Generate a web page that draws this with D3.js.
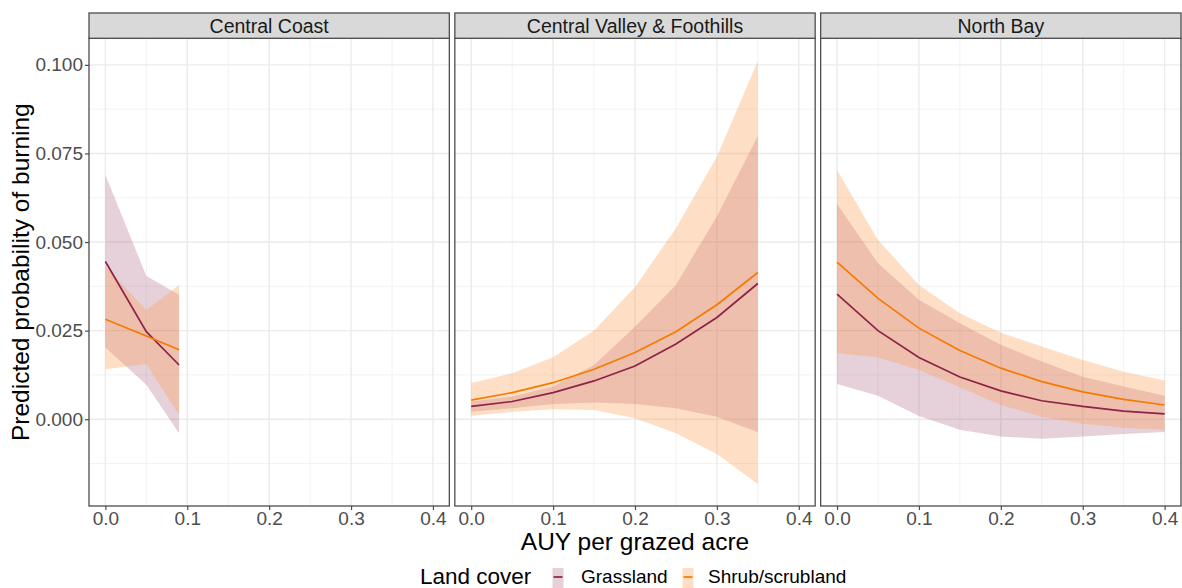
<!DOCTYPE html>
<html>
<head>
<meta charset="utf-8">
<script src="https://cdn.jsdelivr.net/npm/d3@7"></script>
<style>
  html, body { margin: 0; padding: 0; background: #fff; }
  svg { display: block; font-family: "Liberation Sans", Arial, sans-serif; }
</style>
</head>
<body>
<svg id="chart" width="1182" height="588"></svg>
<script>
// ---------------- data ----------------
const regions = ["Central Coast", "Central Valley & Foothills", "North Bay"];
const landCovers = ["Grassland", "Shrub/scrubland"];
const xTicks = [0, 0.1, 0.2, 0.3, 0.4];
const xTickLabels = ["0.0", "0.1", "0.2", "0.3", "0.4"];
const yTicks = [0, 0.025, 0.05, 0.075, 0.1];
const yTickLabels = ["0.000", "0.025", "0.050", "0.075", "0.100"];

// Central Coast
const ccX = [0, 0.05, 0.09];
const ccGrassFit  = [0.0445, 0.0247, 0.0153];
const ccGrassLow  = [0.0202, 0.0097, -0.0040];
const ccGrassHigh = [0.0689, 0.0404, 0.0351];
const ccShrubFit  = [0.0282, 0.0235, 0.0196];
const ccShrubLow  = [0.0141, 0.0156, 0.0012];
const ccShrubHigh = [0.0431, 0.0308, 0.0379];

// Central Valley & Foothills
const cvX = [0, 0.05, 0.1, 0.15, 0.2, 0.25, 0.3, 0.35];
const cvGrassFit  = [0.0036, 0.0050, 0.0075, 0.0108, 0.0150, 0.0212, 0.0287, 0.0383];
const cvGrassLow  = [0.0021, 0.0031, 0.0043, 0.0047, 0.0043, 0.0031, 0.0007, -0.0037];
const cvGrassHigh = [0.0050, 0.0064, 0.0092, 0.0153, 0.0261, 0.0379, 0.0572, 0.0799];
const cvShrubFit  = [0.0054, 0.0075, 0.0103, 0.0141, 0.0188, 0.0247, 0.0323, 0.0414];
const cvShrubLow  = [0.0010, 0.0021, 0.0028, 0.0026, 0.0003, -0.0040, -0.0098, -0.0183];
const cvShrubHigh = [0.0102, 0.0130, 0.0175, 0.0250, 0.0373, 0.0539, 0.0741, 0.1011];

// North Bay
const nbX = [0, 0.05, 0.1, 0.15, 0.2, 0.25, 0.3, 0.35, 0.4];
const nbGrassFit  = [0.0353, 0.0250, 0.0174, 0.0119, 0.0080, 0.0052, 0.0036, 0.0023, 0.0015];
const nbGrassLow  = [0.0099, 0.0066, 0.0009, -0.0030, -0.0049, -0.0055, -0.0049, -0.0042, -0.0036];
const nbGrassHigh = [0.0607, 0.0440, 0.0337, 0.0271, 0.0210, 0.0163, 0.0120, 0.0092, 0.0066];
const nbShrubFit  = [0.0443, 0.0341, 0.0257, 0.0194, 0.0144, 0.0106, 0.0077, 0.0056, 0.0040];
const nbShrubLow  = [0.0186, 0.0175, 0.0139, 0.0090, 0.0040, 0.0007, -0.0013, -0.0024, -0.0030];
const nbShrubHigh = [0.0703, 0.0506, 0.0379, 0.0299, 0.0244, 0.0205, 0.0167, 0.0134, 0.0109];

// ---------------- build table ----------------
function series(xs, fit, low, high) {
  return xs.map((x, i) => ({ x, fit: fit[i], low: low[i], high: high[i] }));
}
const panels = [
  { region: regions[0], groups: [series(ccX, ccGrassFit, ccGrassLow, ccGrassHigh), series(ccX, ccShrubFit, ccShrubLow, ccShrubHigh)] },
  { region: regions[1], groups: [series(cvX, cvGrassFit, cvGrassLow, cvGrassHigh), series(cvX, cvShrubFit, cvShrubLow, cvShrubHigh)] },
  { region: regions[2], groups: [series(nbX, nbGrassFit, nbGrassLow, nbGrassHigh), series(nbX, nbShrubFit, nbShrubLow, nbShrubHigh)] }
];

// ---------------- styles ----------------
const lineColors = ["#8e2247", "#f77a00"];
const fillColors = ["#9b436b", "#fb9a4b"];
const fillOpacity = [0.25, 0.32];

const svg = d3.select("#chart");
const plotLeft = 89, plotRight = 1181, gap = 5.5;
const panelW = (plotRight - plotLeft - 2 * gap) / 3;
const stripTop = 13, stripBottom = 38.3, panelBottom = 506;

const y = d3.scaleLinear().domain([-0.0245, 0.1075]).range([panelBottom, stripBottom]);
const yMinor = [-0.0125, 0.0125, 0.0375, 0.0625, 0.0875];
const xMinor = [0.05, 0.15, 0.25, 0.35];

panels.forEach((p, pi) => {
  const left = plotLeft + pi * (panelW + gap);
  const x = d3.scaleLinear().domain([-0.02, 0.42]).range([left, left + panelW]);
  const g = svg.append("g");

  // grid
  g.selectAll(".ymin").data(yMinor).enter().append("line")
    .attr("x1", left).attr("x2", left + panelW)
    .attr("y1", d => y(d)).attr("y2", d => y(d))
    .attr("stroke", "#f2f2f2").attr("stroke-width", 1);
  g.selectAll(".xmin").data(xMinor).enter().append("line")
    .attr("y1", stripBottom).attr("y2", panelBottom)
    .attr("x1", d => x(d)).attr("x2", d => x(d))
    .attr("stroke", "#f2f2f2").attr("stroke-width", 1);
  g.selectAll(".ymaj").data(yTicks).enter().append("line")
    .attr("x1", left).attr("x2", left + panelW)
    .attr("y1", d => y(d)).attr("y2", d => y(d))
    .attr("stroke", "#ebebeb").attr("stroke-width", 1.4);
  g.selectAll(".xmaj").data(xTicks).enter().append("line")
    .attr("y1", stripBottom).attr("y2", panelBottom)
    .attr("x1", d => x(d)).attr("x2", d => x(d))
    .attr("stroke", "#ebebeb").attr("stroke-width", 1.4);

  // ribbons
  const area = d3.area().x(d => x(d.x)).y0(d => y(d.low)).y1(d => y(d.high));
  p.groups.forEach((s, gi) => {
    g.append("path").attr("d", area(s))
      .attr("fill", fillColors[gi]).attr("fill-opacity", fillOpacity[gi]).attr("stroke", "none");
  });
  // lines
  const line = d3.line().x(d => x(d.x)).y(d => y(d.fit));
  p.groups.forEach((s, gi) => {
    g.append("path").attr("d", line(s))
      .attr("fill", "none").attr("stroke", lineColors[gi]).attr("stroke-width", 1.7);
  });

  // panel border
  g.append("rect").attr("x", left).attr("y", stripBottom)
    .attr("width", panelW).attr("height", panelBottom - stripBottom)
    .attr("fill", "none").attr("stroke", "#4d4d4d").attr("stroke-width", 1.3);

  // strip
  g.append("rect").attr("x", left).attr("y", stripTop)
    .attr("width", panelW).attr("height", stripBottom - stripTop)
    .attr("fill", "#d9d9d9").attr("stroke", "#4d4d4d").attr("stroke-width", 1.3);
  g.append("text").attr("x", left + panelW / 2).attr("y", (stripTop + stripBottom) / 2 + 7)
    .attr("text-anchor", "middle").attr("font-size", 19.5).attr("fill", "#1a1a1a")
    .text(p.region);

  // x axis
  const xAxis = d3.axisBottom(x).tickValues(xTicks).tickSize(4).tickPadding(2)
    .tickFormat((d, i) => xTickLabels[i]);
  const ax = g.append("g").attr("transform", `translate(0,${panelBottom})`).call(xAxis);
  ax.select(".domain").remove();
  ax.selectAll(".tick line").attr("stroke", "#4d4d4d").attr("stroke-width", 1.2);
  ax.selectAll(".tick text").attr("font-size", 19).attr("fill", "#4d4d4d")
    .attr("font-family", "Liberation Sans, Arial, sans-serif");

  if (pi === 0) {
    const yAxis = d3.axisLeft(y).tickValues(yTicks).tickSize(4).tickPadding(2)
      .tickFormat((d, i) => yTickLabels[i]);
    const ay = g.append("g").attr("transform", `translate(${left},0)`).call(yAxis);
    ay.select(".domain").remove();
    ay.selectAll(".tick line").attr("stroke", "#4d4d4d").attr("stroke-width", 1.2);
    ay.selectAll(".tick text").attr("font-size", 19).attr("fill", "#4d4d4d")
      .attr("font-family", "Liberation Sans, Arial, sans-serif");
  }
});

// axis titles
svg.append("text").attr("x", (plotLeft + plotRight) / 2).attr("y", 550)
  .attr("text-anchor", "middle").attr("font-size", 24.5).attr("fill", "#000")
  .text("AUY per grazed acre");
svg.append("text")
  .attr("transform", `translate(28.5,${(stripBottom + panelBottom) / 2}) rotate(-90)`)
  .attr("text-anchor", "middle").attr("font-size", 24.5).attr("fill", "#000")
  .text("Predicted probability of burning");

// legend
const lg = svg.append("g");
lg.append("text").attr("x", 420).attr("y", 584).attr("font-size", 22.5).attr("fill", "#000").text("Land cover");
const keyX = [552.5, 682.5];
const labelX = [581, 708];
landCovers.forEach((lc, i) => {
  lg.append("rect").attr("x", keyX[i]).attr("y", 568).attr("width", 11).attr("height", 20)
    .attr("fill", fillColors[i]).attr("fill-opacity", fillOpacity[i]);
  lg.append("line").attr("x1", keyX[i] + 1).attr("x2", keyX[i] + 10)
    .attr("y1", 577).attr("y2", 577).attr("stroke", lineColors[i]).attr("stroke-width", 1.7);
  lg.append("text").attr("x", labelX[i]).attr("y", 583).attr("font-size", 19).attr("fill", "#000").text(lc);
});
</script>
</body>
</html>
